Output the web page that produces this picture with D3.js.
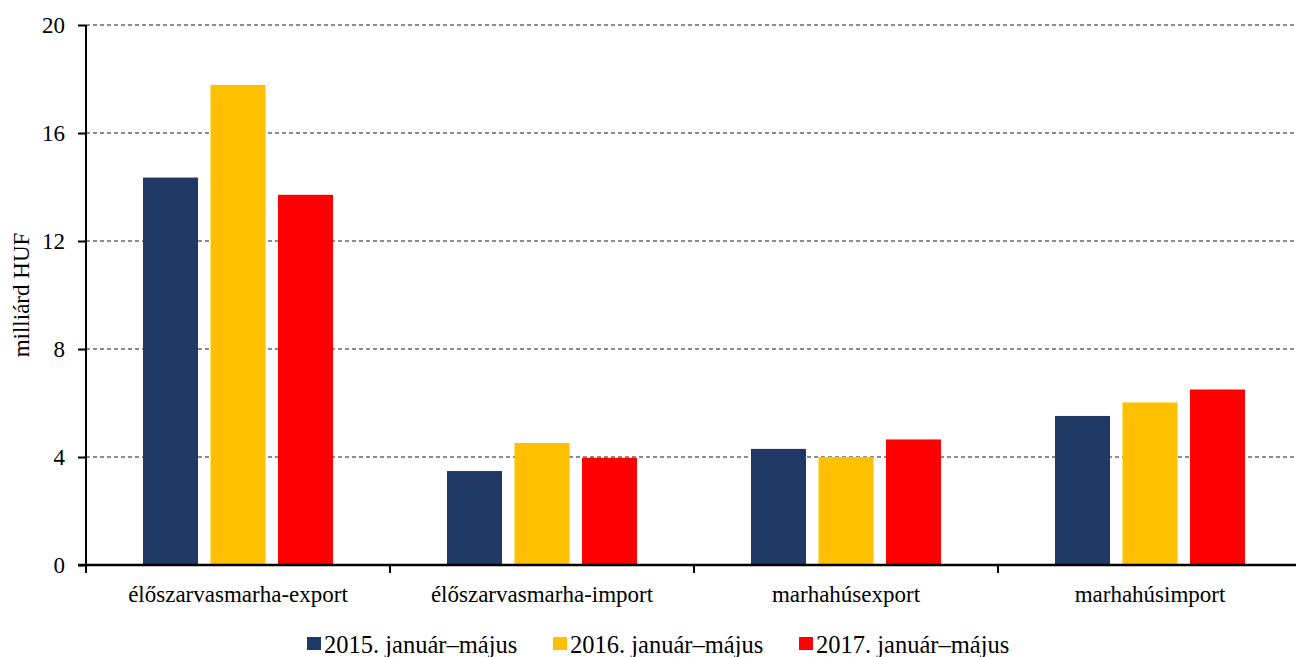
<!DOCTYPE html>
<html>
<head>
<meta charset="utf-8">
<script src="https://cdn.jsdelivr.net/npm/d3@7"></script>
<style>
  body { margin: 0; background: #fff; }
  svg text { font-family: "Liberation Serif", "Times New Roman", serif; }
</style>
</head>
<body>
<div id="chart"></div>
<script>
const width = 1296;
const height = 657;
const margin = { top: 25, left: 86, right: 1296 - 1302, bottom: 657 - 565 };

const categories = ["élőszarvasmarha-export", "élőszarvasmarha-import", "marhahúsexport", "marhahúsimport"];
const seriesNames = ["2015. január–május", "2016. január–május", "2017. január–május"];
const values2015 = [14.35, 3.48, 4.3, 5.52];
const values2016 = [17.78, 4.52, 4.0, 6.02];
const values2017 = [13.71, 3.97, 4.65, 6.5];
const yTicks = [0, 4, 8, 12, 16, 20];
const colors = ["#203864", "#FFC000", "#FF0000"];

const allValues = [values2015, values2016, values2017];

const svg = d3.select("#chart").append("svg")
  .attr("width", width)
  .attr("height", height);

const x0 = d3.scaleBand()
  .domain(categories)
  .range([margin.left, width - margin.right])
  .padding(0);

const x1 = d3.scaleBand()
  .domain(seriesNames)
  .range([0, x0.bandwidth()])
  .paddingInner(0.185)
  .paddingOuter(0.844);

const y = d3.scaleLinear()
  .domain([0, 20])
  .range([height - margin.bottom, margin.top]);

// grid lines
svg.append("g")
  .selectAll("line")
  .data(yTicks.filter(d => d > 0))
  .enter().append("line")
  .attr("x1", margin.left)
  .attr("x2", width - margin.right)
  .attr("y1", d => y(d))
  .attr("y2", d => y(d))
  .attr("stroke", "#1a1a1a")
  .attr("stroke-width", 1)
  .attr("stroke-dasharray", "4,3");

// bars
seriesNames.forEach((s, si) => {
  svg.append("g")
    .selectAll("rect")
    .data(allValues[si])
    .enter().append("rect")
    .attr("x", (d, i) => x0(categories[i]) + x1(s))
    .attr("y", d => y(d))
    .attr("width", x1.bandwidth())
    .attr("height", d => y(0) - y(d))
    .attr("fill", colors[si]);
});

// y axis
const yAxis = svg.append("g")
  .attr("transform", `translate(${margin.left},0)`)
  .call(d3.axisLeft(y).tickValues(yTicks).tickSize(8).tickPadding(13).tickFormat(d3.format("d")));
yAxis.attr("font-size", null).attr("font-family", null);
yAxis.select(".domain").attr("stroke", "#000").attr("stroke-width", 2).attr("d", `M0,${y(20)}V${y(0)}`);
yAxis.selectAll(".tick line").attr("stroke", "#000").attr("stroke-width", 2);
yAxis.selectAll("text")
  .style("font-size", "23px")
  .attr("fill", "#000");

// x axis
const xAxisG = svg.append("g")
  .attr("transform", `translate(0,${y(0)})`);
xAxisG.append("line")
  .attr("x1", margin.left - 8)
  .attr("x2", width - margin.right)
  .attr("stroke", "#000")
  .attr("stroke-width", 2.5);
const boundaries = categories.map(c => x0(c)).concat([x0.range()[1]]);
xAxisG.selectAll(".xtick")
  .data(boundaries)
  .enter().append("line")
  .attr("class", "xtick")
  .attr("x1", d => d).attr("x2", d => d)
  .attr("y1", 0).attr("y2", 8)
  .attr("stroke", "#000")
  .attr("stroke-width", 2);
xAxisG.selectAll(".xlabel")
  .data(categories)
  .enter().append("text")
  .attr("class", "xlabel")
  .attr("x", d => x0(d) + x0.bandwidth() / 2)
  .attr("y", 37)
  .attr("text-anchor", "middle")
  .style("font-size", "23px")
  .attr("fill", "#000")
  .text(d => d);

// y label
svg.append("text")
  .attr("transform", `translate(29,${y(10)}) rotate(-90)`)
  .attr("text-anchor", "middle")
  .style("font-size", "23px")
  .attr("fill", "#000")
  .text("milliárd HUF");

// legend
const legendX = [307, 553, 799];
const legend = svg.append("g")
  .selectAll("g")
  .data(seriesNames)
  .enter().append("g")
  .attr("transform", (d, i) => `translate(${legendX[i]},637)`);
legend.append("rect")
  .attr("width", 14).attr("height", 13)
  .attr("fill", (d, i) => colors[i]);
legend.append("text")
  .attr("x", 17)
  .attr("y", 16)
  .style("font-size", "24.5px")
  .attr("fill", "#000")
  .text(d => d);
</script>
</body>
</html>
